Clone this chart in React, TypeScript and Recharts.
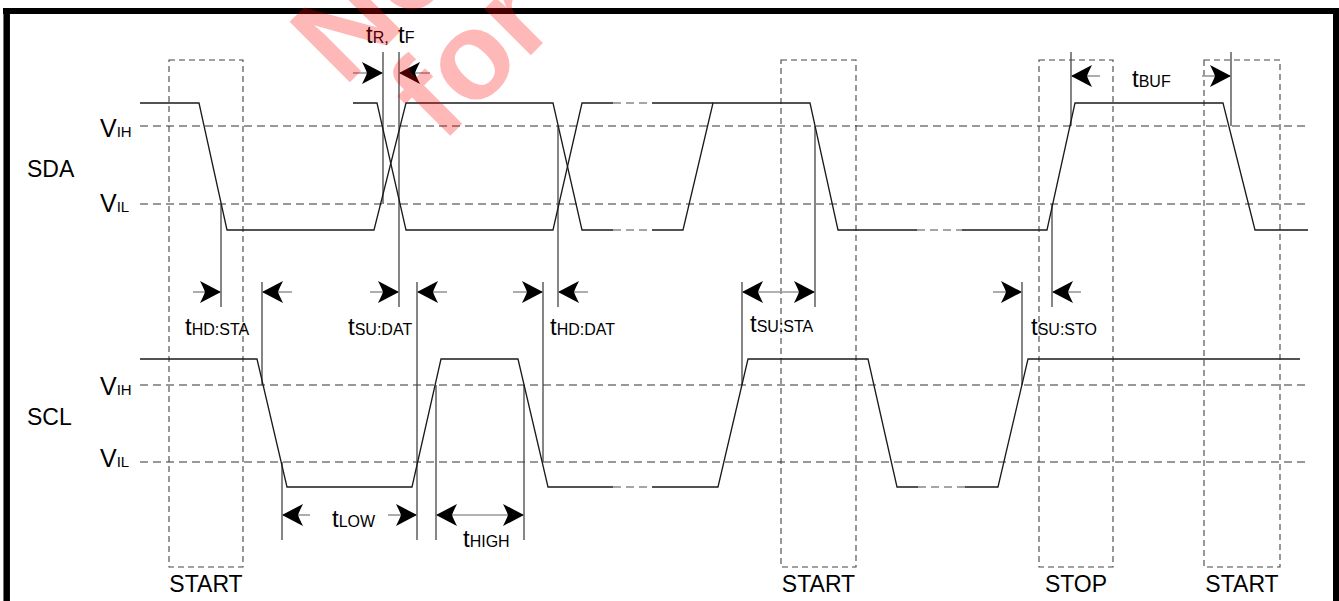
import React from "react";
import { ComposedChart, Line, Scatter, XAxis, YAxis, ReferenceLine, ReferenceArea } from "recharts";

// time axis runs 0..1339, level axis 0..601 (top to bottom)
const sdaA1 = [[140, 103], [199, 103], [227, 230], [374, 230], [406, 103], [553, 103], [582, 230], [613, 230]];
const sdaA2 = [[613, 230], [652, 230]];
const sdaA3 = [[652, 230], [683, 230], [713, 103], [810, 103], [838, 230], [917, 230]];
const sdaA4 = [[917, 230], [962, 230]];
const sdaA5 = [[962, 230], [1047, 230], [1075, 103], [1223, 103], [1255, 230], [1308, 230]];
const sdaB1 = [[353, 103], [377, 103], [406, 230], [553, 230], [582, 103], [613, 103]];
const sdaB2 = [[613, 103], [652, 103]];
const sdaB3 = [[652, 103], [713, 103]];

const scl1 = [[140, 359], [257, 359], [287, 487], [412, 487], [441, 359], [518, 359], [548, 487], [613, 487]];
const scl2 = [[613, 487], [652, 487]];
const scl3 = [[652, 487], [718, 487], [748, 359], [868, 359], [897, 487], [918, 487]];
const scl4 = [[918, 487], [965, 487]];
const scl5 = [[965, 487], [998, 487], [1028, 359], [1300, 359]];

const thresholds = [126, 204, 385, 462];
const thresholdNames = ["IH", "IL", "IH", "IL"];
const thresholdTextLevels = [137, 212, 395, 467];

// [time, from, to]
const markers = [
  [383, 52, 204], [399, 52, 307], [221, 204, 307], [262, 282, 385], [417, 282, 540],
  [543, 282, 462], [558, 126, 307], [742, 282, 385], [815, 126, 307], [1022, 282, 385],
  [1052, 204, 307], [1071, 52, 126], [1231, 52, 126], [282, 462, 540], [436, 385, 540], [524, 385, 540],
];

// [from, to, level]
const tails = [
  [353, 383, 73], [399, 430, 73],
  [193, 221, 292], [262, 292, 292], [370, 399, 292], [417, 447, 292], [513, 543, 292],
  [558, 588, 292], [742, 815, 292], [993, 1022, 292], [1052, 1081, 292],
  [1071, 1100, 76], [1202, 1231, 76],
  [282, 310, 515], [388, 417, 515], [436, 524, 515],
];

// [tip, level, direction]
const arrowTips = [
  [383, 73, 1], [399, 73, -1],
  [221, 292, 1], [262, 292, -1], [399, 292, 1], [417, 292, -1], [543, 292, 1], [558, 292, -1],
  [742, 292, -1], [815, 292, 1], [1022, 292, 1], [1052, 292, -1],
  [1071, 76, -1], [1231, 76, 1],
  [282, 515, -1], [417, 515, 1], [436, 515, -1], [524, 515, 1],
];

const windows = [[169, 243], [781, 856], [1039, 1113], [1204, 1280]];
const windowNames = ["START", "START", "STOP", "START"];

const timingSubs = ["R,", "F", "HD:STA", "SU:DAT", "HD:DAT", "SU:STA", "SU:STO", "BUF", "LOW", "HIGH"];
const timingAnchors = [[366, 43], [398, 43], [185, 335], [348, 335], [550, 335], [750, 332], [1031, 335], [1132, 87], [332, 527], [463, 547]];

const signalNames = ["SDA", "SCL"];
const signalAnchors = [[27, 177], [27, 425]];

const watermarkLines = ["Not Recommended", "for New Designs"];
const watermarkAnchors = [[344, 88], [442, 144]];

const FONT = "'Liberation Sans', Arial, Helvetica, sans-serif";
const pts = (a: number[][]) => a.map(([x, y]) => ({ x, y }));

function ArrowHead(props: any) {
  const { cx, cy, payload } = props;
  const d = payload.dir;
  const p = `M${cx},${cy} L${cx - d * 21},${cy - 11} Q${cx - d * 17},${cy - 3} ${cx - d * 16},${cy} Q${cx - d * 17},${cy + 3} ${cx - d * 21},${cy + 11} Z`;
  return <path d={p} fill="#000" />;
}

function SubLabel(props: any) {
  const { cx, cy, payload } = props;
  return (
    <text x={cx} y={cy} fontFamily={FONT} fontSize={payload.big} fill="#000">
      {payload.main}
      <tspan fontSize={payload.small}>{payload.sub}</tspan>
    </text>
  );
}

function PlainLabel(props: any) {
  const { cx, cy, payload } = props;
  return (
    <text x={cx} y={cy} fontFamily={FONT} fontSize={23} textAnchor={payload.anchor} fill="#000">
      {payload.text}
    </text>
  );
}

function Watermark(props: any) {
  const { cx, cy, payload } = props;
  return (
    <text x={cx} y={cy} transform={`rotate(-45 ${cx} ${cy})`} fontFamily={FONT} fontWeight="bold" fontSize={124} fill="rgba(255,0,0,0.28)">
      {payload.text}
    </text>
  );
}

export default function App() {
  const solid = [sdaA1, sdaA3, sdaA5, sdaB1, sdaB3, scl1, scl3, scl5];
  const gaps = [sdaA2, sdaA4, sdaB2, scl2, scl4];
  const arrows = arrowTips.map(([x, y, dir]) => ({ x, y, dir }));
  const timing = timingSubs.map((sub, i) => ({ x: timingAnchors[i][0], y: timingAnchors[i][1], main: "t", sub, big: 24, small: 16 }));
  const vLabels = thresholds.map((_, i) => ({ x: 100, y: thresholdTextLevels[i], main: "V", sub: thresholdNames[i], big: 25, small: 15 }));
  const names = signalNames.map((text, i) => ({ x: signalAnchors[i][0], y: signalAnchors[i][1], text, anchor: "start" }));
  const events = windows.map(([a, b], i) => ({ x: (a + b) / 2, y: 592, text: windowNames[i], anchor: "middle" }));
  const marks = watermarkLines.map((text, i) => ({ x: watermarkAnchors[i][0], y: watermarkAnchors[i][1], text }));

  return (
    <div style={{ position: "absolute", left: 0, top: 0, background: "#fff" }}>
      <ComposedChart width={1339} height={601} margin={{ top: 0, right: 0, bottom: 0, left: 0 }}>
        <XAxis type="number" dataKey="x" domain={[0, 1339]} hide allowDataOverflow />
        <YAxis type="number" dataKey="y" domain={[0, 601]} reversed hide allowDataOverflow />

        {windows.map(([a, b], i) => (
          <ReferenceArea key={`w${i}`} x1={a} x2={b} y1={60} y2={567} fill="none" stroke="#444" strokeWidth={1.1} strokeDasharray="6 4" />
        ))}
        {thresholds.map((lv, i) => (
          <ReferenceLine key={`t${i}`} segment={[{ x: 140, y: lv }, { x: 1308, y: lv }]} stroke="#333" strokeWidth={1.1} strokeDasharray="8 5" />
        ))}
        {markers.map(([t, a, b], i) => (
          <ReferenceLine key={`m${i}`} segment={[{ x: t, y: a }, { x: t, y: b }]} stroke="#444" strokeWidth={1.3} />
        ))}
        {tails.map(([a, b, lv], i) => (
          <ReferenceLine key={`a${i}`} segment={[{ x: a, y: lv }, { x: b, y: lv }]} stroke="#999" strokeWidth={1.6} />
        ))}
        <ReferenceLine segment={[{ x: 3, y: 11 }, { x: 1339, y: 11 }]} stroke="#000" strokeWidth={6} />
        <ReferenceLine segment={[{ x: 6.7, y: 8 }, { x: 6.7, y: 601 }]} stroke="#000" strokeWidth={6.5} />
        <ReferenceLine segment={[{ x: 1336, y: 8 }, { x: 1336, y: 601 }]} stroke="#000" strokeWidth={6} />

        {solid.map((s, i) => (
          <Line key={`s${i}`} data={pts(s)} dataKey="y" type="linear" stroke="#1a1a1a" strokeWidth={1.3} dot={false} activeDot={false} isAnimationActive={false} />
        ))}
        {gaps.map((s, i) => (
          <Line key={`g${i}`} data={pts(s)} dataKey="y" type="linear" stroke="#888" strokeWidth={1.3} strokeDasharray="8 5" dot={false} activeDot={false} isAnimationActive={false} />
        ))}

        <Scatter data={arrows} shape={ArrowHead} isAnimationActive={false} />
        <Scatter data={timing} shape={SubLabel} isAnimationActive={false} />
        <Scatter data={vLabels} shape={SubLabel} isAnimationActive={false} />
        <Scatter data={names} shape={PlainLabel} isAnimationActive={false} />
        <Scatter data={events} shape={PlainLabel} isAnimationActive={false} />
        <Scatter data={marks} shape={Watermark} isAnimationActive={false} />
      </ComposedChart>
    </div>
  );
}
